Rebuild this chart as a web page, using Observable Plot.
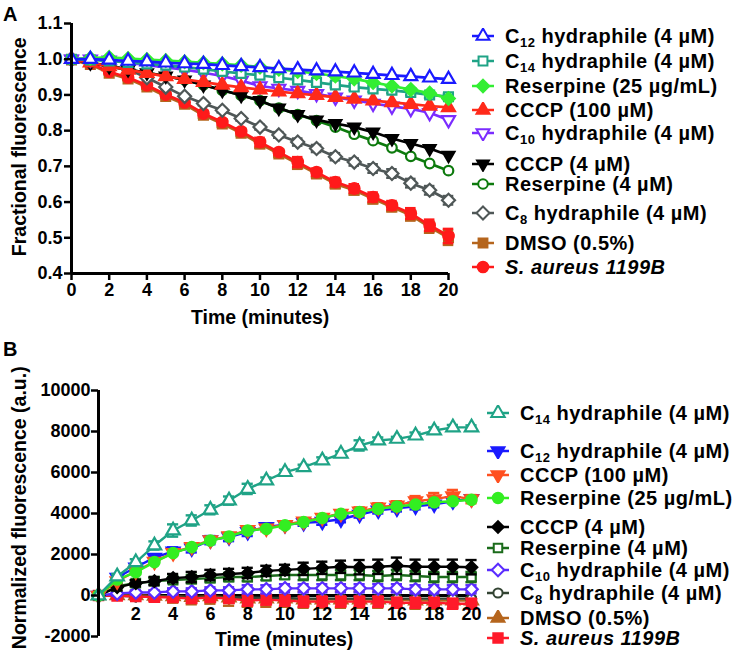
<!DOCTYPE html>
<html><head><meta charset="utf-8">
<script src="https://cdn.jsdelivr.net/npm/d3@7"></script>
<script src="https://cdn.jsdelivr.net/npm/@observablehq/plot@0.6"></script>
<style>
body{margin:0;background:#fff;}
#root{position:relative;width:756px;height:661px;font-family:"Liberation Sans",Arial,sans-serif;font-weight:bold;color:#000;overflow:hidden;background:#fff}
.abs{position:absolute}
.plab{font-size:20px;line-height:1}
.title{font-size:19.5px;white-space:nowrap;line-height:1}
.item{position:absolute;display:flex;align-items:center;white-space:nowrap;font-size:20px;height:20px;line-height:1;letter-spacing:0.5px}
.item svg{flex:none}
.item span{margin-left:10px}
sub{font-size:13px;vertical-align:-4px;line-height:0}
</style></head><body><div id="root"></div>
<script>
// ---------- data ----------
const time = [0,1,2,3,4,5,6,7,8,9,10,11,12,13,14,15,16,17,18,19,20];

// Panel A: fractional fluorescence
const a_c12     = [1.000,1.000,0.998,0.995,0.993,0.990,0.988,0.986,0.983,0.980,0.977,0.974,0.971,0.968,0.965,0.962,0.958,0.955,0.952,0.948,0.944];
const a_c14     = [1.000,0.998,0.995,0.991,0.987,0.983,0.978,0.972,0.966,0.960,0.955,0.948,0.942,0.935,0.928,0.922,0.917,0.913,0.907,0.900,0.895];
const a_res25   = [1.000,1.003,1.005,1.002,0.999,0.996,0.993,0.990,0.987,0.983,0.978,0.972,0.966,0.960,0.953,0.945,0.935,0.925,0.915,0.905,0.890];
const a_cccp100 = [1.000,0.990,0.980,0.970,0.961,0.952,0.944,0.936,0.928,0.921,0.915,0.909,0.904,0.899,0.894,0.889,0.884,0.879,0.874,0.869,0.865];
const a_c10     = [1.000,1.000,0.997,0.990,0.983,0.977,0.971,0.962,0.953,0.940,0.925,0.918,0.912,0.903,0.893,0.885,0.876,0.868,0.861,0.850,0.830];
const a_cccp4   = [1.000,0.990,0.980,0.971,0.962,0.953,0.942,0.928,0.913,0.899,0.884,0.863,0.845,0.830,0.820,0.810,0.796,0.778,0.764,0.750,0.731];
const a_res4    = [1.000,0.990,0.980,0.971,0.962,0.953,0.942,0.928,0.913,0.899,0.884,0.863,0.845,0.828,0.810,0.790,0.772,0.752,0.728,0.708,0.688];
const a_c8      = [1.000,0.990,0.982,0.972,0.948,0.922,0.896,0.876,0.857,0.834,0.810,0.788,0.768,0.750,0.727,0.712,0.694,0.680,0.653,0.633,0.605];
const a_dmso    = [0.998,0.985,0.961,0.945,0.922,0.896,0.874,0.843,0.819,0.793,0.763,0.735,0.707,0.679,0.651,0.633,0.609,0.586,0.563,0.530,0.500];
const a_sa      = [1.000,0.988,0.965,0.949,0.927,0.901,0.879,0.848,0.824,0.798,0.768,0.740,0.712,0.684,0.656,0.638,0.614,0.591,0.568,0.535,0.505];

const ae_c14  = [0,0,0.002,0.003,0.003,0.004,0.004,0.005,0.005,0.006,0.006,0.006,0.007,0.007,0.007,0.008,0.008,0.008,0.008,0.008,0.008];
const ae_c8   = [0,0,0,0.003,0.004,0.004,0.005,0.005,0.006,0.006,0.007,0.008,0.010,0.010,0.010,0.010,0.012,0.012,0.012,0.012,0.012];
const ae_dmso = [0,0.003,0.004,0.004,0.005,0.005,0.006,0.007,0.008,0.008,0.012,0.008,0.014,0.010,0.012,0.012,0.013,0.012,0.015,0.016,0.020];
const ae_sa   = [0,0.003,0.004,0.004,0.005,0.005,0.006,0.007,0.008,0.008,0.012,0.008,0.014,0.010,0.012,0.012,0.013,0.012,0.015,0.016,0.020];
const ae_none = [0,0,0,0,0,0,0,0,0,0,0,0,0,0,0,0,0,0,0,0,0];

// Panel B: normalized fluorescence (a.u.)
const b_c14     = [0,930,1620,2440,3170,3660,4180,4630,5200,5610,6020,6260,6590,6910,7320,7560,7640,7800,8050,8200,8200];
const b_c12     = [0,880,1380,1850,2150,2300,2700,2850,3100,3350,3450,3550,3600,3720,3950,4150,4250,4350,4450,4600,4720];
const b_cccp100 = [0,700,1180,1650,2080,2380,2700,2900,3200,3280,3450,3620,3800,4000,4100,4300,4400,4600,4700,4850,4700];
const b_res25   = [0,780,1140,1630,2070,2360,2680,2880,3170,3250,3420,3580,3780,3980,4070,4230,4340,4440,4550,4600,4670];
const b_cccp4   = [0,400,600,700,850,900,1000,1050,1100,1200,1250,1300,1350,1400,1380,1400,1450,1400,1400,1400,1380];
const b_res4    = [0,450,600,700,750,800,850,900,900,950,1000,1000,1000,1000,1000,950,1000,950,900,900,900];
const b_c10     = [0,100,150,150,200,200,250,250,300,300,350,350,350,350,350,350,350,300,300,300,300];
const b_c8      = [0,0,-50,-50,-50,-80,-100,-100,-100,-120,-120,-150,-150,-150,-150,-150,-150,-150,-150,-150,-150];
const b_dmso    = [0,0,0,-20,-50,-80,-50,-100,-150,-150,-150,-200,-200,-200,-200,-200,-200,-250,-250,-250,-250];
const b_sa      = [0,-20,-50,-80,-100,-150,-100,-150,-250,-200,-250,-300,-300,-300,-300,-300,-350,-350,-350,-400,-400];

const be_c14     = [0,120,150,200,300,250,220,200,250,150,120,120,150,120,250,150,100,150,150,120,100];
const be_c12     = [0,150,150,150,200,200,200,200,200,150,150,150,150,150,150,150,150,150,150,100,100];
const be_cccp100 = [0,100,100,100,100,100,100,100,150,150,150,150,150,150,200,200,200,250,300,300,200];
const be_res25   = [0,50,50,50,50,50,50,50,50,50,50,50,50,50,50,50,50,50,50,50,50];
const be_cccp4   = [0,150,150,200,200,250,250,250,250,250,250,300,300,300,350,350,400,350,350,350,350];
const be_res4    = [0,100,150,150,150,200,200,200,200,200,200,250,250,250,250,250,250,250,250,250,250];
const be_c10     = [0,100,100,100,150,150,150,150,200,200,200,200,200,200,200,200,200,200,200,200,200];
const be_c8      = [0,50,50,50,50,50,50,50,50,50,50,50,50,50,50,50,50,50,50,50,50];
const be_dmso    = [0,100,200,250,300,350,350,400,400,400,400,400,400,400,400,400,400,400,400,400,400];
const be_sa      = [0,100,150,150,150,200,200,200,250,250,250,250,250,250,250,250,250,250,250,250,250];

// ticks
const xTicksA = [0,2,4,6,8,10,12,14,16,18,20];
const yTicksA = [0.4,0.5,0.6,0.7,0.8,0.9,1.0,1.1];
const xTicksB = [2,4,6,8,10,12,14,16,18,20];
const yTicksB = [-2000,0,2000,4000,6000,8000,10000];

// labels
const labC12 = 'C<sub>12</sub> hydraphile (4 µM)';
const labC14 = 'C<sub>14</sub> hydraphile (4 µM)';
const labC10 = 'C<sub>10</sub> hydraphile (4 µM)';
const labC8  = 'C<sub>8</sub> hydraphile (4 µM)';
const labRes25 = 'Reserpine (25 µg/mL)';
const labRes4 = 'Reserpine (4 µM)';
const labCccp100 = 'CCCP (100 µM)';
const labCccp4 = 'CCCP (4 µM)';
const labDmso = 'DMSO (0.5%)';
const labSa = '<i>S. aureus 1199B</i>';

// ---------- symbols ----------
const S3 = Math.sqrt(3);
const triUp = d3.symbolTriangle;
const triDown = {draw(ctx, size){ const y = -Math.sqrt(size/(S3*3)); ctx.moveTo(0,-2*y); ctx.lineTo(-S3*y, y); ctx.lineTo(S3*y, y); ctx.closePath(); }};
const diamond = {draw(ctx, size){ const h = Math.sqrt(size/2); ctx.moveTo(0,-h); ctx.lineTo(h,0); ctx.lineTo(0,h); ctx.lineTo(-h,0); ctx.closePath(); }};
const square = d3.symbolSquare;
const circle = d3.symbolCircle;
const tickDown = {draw(ctx){ ctx.moveTo(0,0); ctx.lineTo(0,7); }};

// ---------- series config (drawing order bottom->top) ----------
const seriesA = [
  {label:labDmso,    v:a_dmso,    e:ae_dmso, color:"#b5651d", sym:square,  open:false, r:5},
  {label:labSa,      v:a_sa,      e:ae_sa,   color:"#ff1a1a", sym:circle,  open:false, r:5.3},
  {label:labC8,      v:a_c8,      e:ae_c8,   color:"#4f5757", sym:diamond, open:true,  r:5.2},
  {label:labRes4,    v:a_res4,    e:ae_none, color:"#0d7a0d", sym:circle,  open:true,  r:4.8},
  {label:labCccp4,   v:a_cccp4,   e:ae_none, color:"#000000", sym:triDown, open:false, r:4.4},
  {label:labC10,     v:a_c10,     e:ae_none, color:"#7b2cff", sym:triDown, open:true,  r:4.8},
  {label:labCccp100, v:a_cccp100, e:ae_none, color:"#ff2a1a", sym:triUp,   open:false, r:4.8},
  {label:labC14,     v:a_c14,     e:ae_c14,  color:"#1fa386", sym:square,  open:true,  r:5},
  {label:labRes25,   v:a_res25,   e:ae_none, color:"#33ee33", sym:diamond, open:false, r:5},
  {label:labC12,     v:a_c12,     e:ae_none, color:"#1a1aff", sym:triUp,   open:true,  r:4.8}
];
const legendOrderA = [labC12, labC14, labRes25, labCccp100, labC10, labCccp4, labRes4, labC8, labDmso, labSa];
const legendYA = [36, 61, 86, 110, 133, 164, 184, 213, 243, 267];

const seriesB = [
  {label:labDmso,    v:b_dmso,    e:be_dmso,    color:"#b5651d", sym:triUp,   open:false, r:4.8},
  {label:labC8,      v:b_c8,      e:be_c8,      color:"#334433", sym:circle,  open:true,  r:4.6},
  {label:labSa,      v:b_sa,      e:be_sa,      color:"#ff1a2a", sym:square,  open:false, r:5.3},
  {label:labC10,     v:b_c10,     e:be_c10,     color:"#5a2cff", sym:diamond, open:true,  r:5},
  {label:labRes4,    v:b_res4,    e:be_res4,    color:"#1a6b1a", sym:square,  open:true,  r:4.8},
  {label:labCccp4,   v:b_cccp4,   e:be_cccp4,   color:"#000000", sym:diamond, open:false, r:4.6},
  {label:labC12,     v:b_c12,     e:be_c12,     color:"#1a1aff", sym:triDown, open:false, r:4.8},
  {label:labCccp100, v:b_cccp100, e:be_cccp100, color:"#ff5020", sym:triDown, open:false, r:4.8},
  {label:labRes25,   v:b_res25,   e:be_res25,   color:"#33ee22", sym:circle,  open:false, r:5.2},
  {label:labC14,     v:b_c14,     e:be_c14,     color:"#1fa386", sym:triUp,   open:true,  r:5}
];
const legendOrderB = [labC14, labC12, labCccp100, labRes25, labCccp4, labRes4, labC10, labC8, labDmso, labSa];
const legendYB = [413, 451, 475, 498, 527, 548, 570, 593, 618, 638];

// ---------- helpers ----------
function rowsOf(s){ return time.map((t,i)=>({t, v:s.v[i], lo:s.v[i]-s.e[i], hi:s.v[i]+s.e[i], e:s.e[i]})); }
function seriesMarks(s, lineW, capW){
  const rows = rowsOf(s);
  const er = rows.filter(d=>d.e>0);
  return [
    Plot.line(rows, {x:"t", y:"v", stroke:s.color, strokeWidth:lineW}),
    Plot.ruleX(er, {x:"t", y1:"lo", y2:"hi", stroke:s.color, strokeWidth:2.4}),
    Plot.ruleY(er, {y:"lo", x1:d=>d.t-capW, x2:d=>d.t+capW, stroke:s.color, strokeWidth:2.4}),
    Plot.ruleY(er, {y:"hi", x1:d=>d.t-capW, x2:d=>d.t+capW, stroke:s.color, strokeWidth:2.4}),
    Plot.dot(rows, {x:"t", y:"v", symbol:()=>s.sym, r:s.r, fill:s.open?"white":s.color, stroke:s.color, strokeWidth:2.2})
  ];
}

const root = document.getElementById("root");
function addDiv(cls, html, left, top){ const d=document.createElement("div"); d.className="abs "+cls; d.innerHTML=html; d.style.left=left+"px"; d.style.top=top+"px"; root.appendChild(d); return d; }

const plotStyle = {fontFamily:"'Liberation Sans', Arial, sans-serif", fontWeight:"bold", fontSize:"18px", color:"#000", overflow:"visible", background:"transparent"};

// ---------- Panel A ----------
const plotA = Plot.plot({
  width:470, height:300,
  marginLeft:71, marginTop:23, marginBottom:27, marginRight:22,
  style:plotStyle,
  x:{domain:[0,20]},
  y:{domain:[0.4,1.1]},
  marks:[
    ...seriesA.flatMap(s=>seriesMarks(s, 2.7, 0.28)),
    Plot.ruleX([0], {y1:0.4, y2:1.1, stroke:"#000", strokeWidth:3}),
    Plot.ruleY([0.4], {x1:0, x2:20, stroke:"#000", strokeWidth:3}),
    Plot.axisY({ticks:yTicksA, tickFormat:d=>d.toFixed(1), tickSize:7, tickPadding:2, strokeWidth:2.5, fontSize:18, label:null}),
    Plot.axisX({ticks:xTicksA, tickFormat:d=>String(d), tickSize:7, tickPadding:3, strokeWidth:2.5, fontSize:18, label:null})
  ]
});
const wrapA = document.createElement("div"); wrapA.className="abs"; wrapA.style.left="0px"; wrapA.style.top="0px"; wrapA.appendChild(plotA); root.appendChild(wrapA);

// ---------- Panel B ----------
const plotB = Plot.plot({
  width:490, height:300,
  marginLeft:98, marginTop:30, marginBottom:24, marginRight:19,
  style:plotStyle,
  x:{domain:[0,20]},
  y:{domain:[-2000,10000]},
  marks:[
    Plot.ruleY([0], {x1:0, x2:20, stroke:"#000", strokeWidth:3}),
    Plot.dot(xTicksB, {x:d=>d, y:0, symbol:()=>tickDown, r:3, stroke:"#000", strokeWidth:2.5}),
    ...seriesB.flatMap(s=>seriesMarks(s, 2.4, 0.3)),
    Plot.ruleX([0], {y1:-2000, y2:10000, stroke:"#000", strokeWidth:3}),
    Plot.text(xTicksB, {x:d=>d, y:0, dy:19, text:d=>String(d), fontSize:18, fill:"#000"}),
    Plot.axisY({ticks:yTicksB, tickFormat:d=>String(d), tickSize:7, tickPadding:1, strokeWidth:2.5, fontSize:18, label:null}),
    Plot.axisX({ticks:[], label:null})
  ]
});
const wrapB = document.createElement("div"); wrapB.className="abs"; wrapB.style.left="0px"; wrapB.style.top="360px"; wrapB.appendChild(plotB); root.appendChild(wrapB);

// ---------- titles ----------
addDiv("plab", "A", 3, 4);
addDiv("plab", "B", 3, 339);
const ya = addDiv("title", "Fractional fluorescence", 0, 0);
ya.style.left = (19 - ya.offsetWidth/2)+"px"; ya.style.top = (147 - ya.offsetHeight/2)+"px"; ya.style.transform="rotate(-90deg)";
const xa = addDiv("title", "Time (minutes)", 0, 0);
xa.style.left = (260 - xa.offsetWidth/2)+"px"; xa.style.top = (318 - xa.offsetHeight/2)+"px";
const yb = addDiv("title", "Normalized fluorescence (a.u.)", 0, 0);
yb.style.left = (19 - yb.offsetWidth/2)+"px"; yb.style.top = (508 - yb.offsetHeight/2)+"px"; yb.style.transform="rotate(-90deg)";
const xb = addDiv("title", "Time (minutes)", 0, 0);
xb.style.left = (284 - xb.offsetWidth/2)+"px"; xb.style.top = (640 - xb.offsetHeight/2)+"px";

// ---------- legends ----------
function legend(series, order, ys, x){
  order.forEach((lab, i)=>{
    const s = series.find(q=>q.label===lab);
    const item = document.createElement("div");
    item.className="item";
    item.style.left = x+"px"; item.style.top = (ys[i]-10)+"px";
    const svg = d3.create("svg").attr("width",24).attr("height",16);
    svg.append("line").attr("x1",1).attr("x2",23).attr("y1",8).attr("y2",8).attr("stroke",s.color).attr("stroke-width",2.5);
    svg.append("path").attr("d", d3.symbol(s.sym, Math.PI*s.r*s.r)()).attr("transform","translate(12,8)")
      .attr("fill", s.open?"white":s.color).attr("stroke", s.color).attr("stroke-width",2);
    item.appendChild(svg.node());
    const sp = document.createElement("span"); sp.innerHTML = lab; item.appendChild(sp);
    root.appendChild(item);
  });
}
legend(seriesA, legendOrderA, legendYA, 471);
legend(seriesB, legendOrderB, legendYB, 486);
</script></body></html>
